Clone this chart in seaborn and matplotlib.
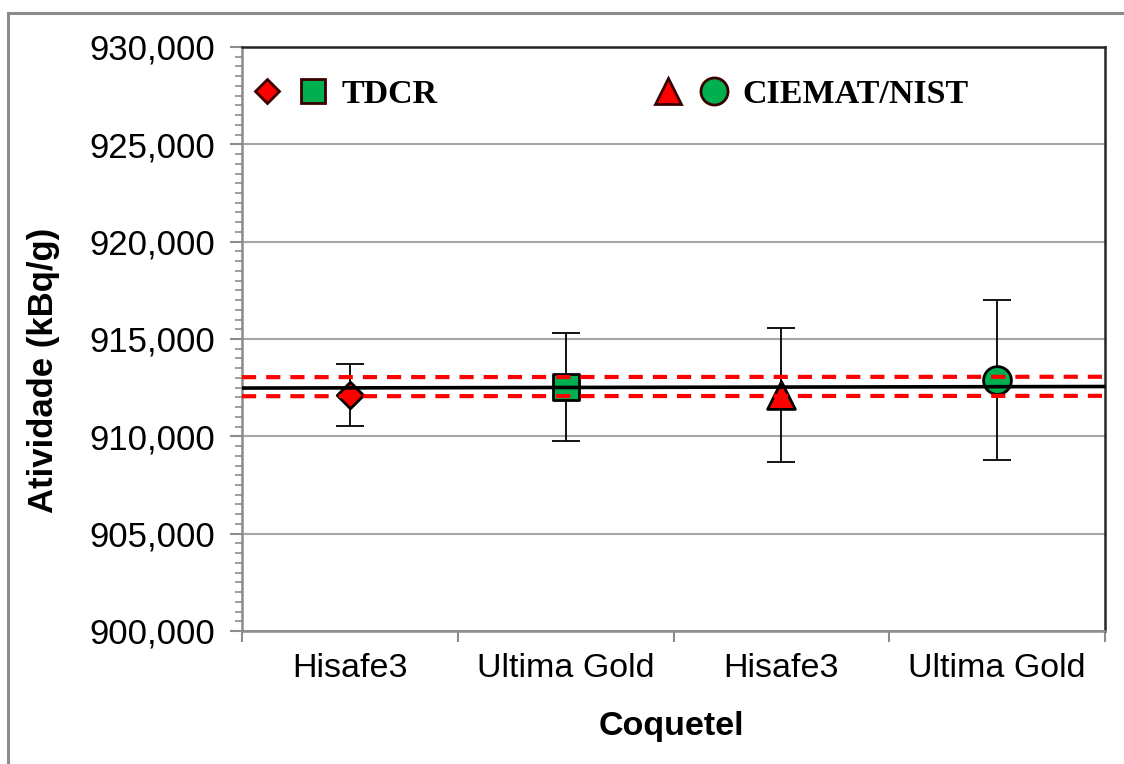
import matplotlib
matplotlib.use("Agg")
import matplotlib.pyplot as plt
import seaborn as sns
import numpy as np
from matplotlib.lines import Line2D
from matplotlib.legend_handler import HandlerTuple
from matplotlib.patches import Rectangle
from matplotlib.ticker import FuncFormatter, MultipleLocator, FixedLocator

# ---- data ----
categories = ["Hisafe3", "Ultima Gold", "Hisafe3", "Ultima Gold"]
methods = ["TDCR", "TDCR", "CIEMAT/NIST", "CIEMAT/NIST"]
activity = [912120, 912550, 912120, 912890]
uncertainty = [1600, 2770, 3420, 4120]
ref_x = [-0.5, 3.5]
ref_mean = [912480, 912560]
ref_upper = [913040, 913060]
ref_lower = [912060, 912080]
y_ticks = [900000, 905000, 910000, 915000, 920000, 925000, 930000]

# ---- style ----
sns.set_theme(style="white")
plt.rcParams["font.family"] = ["Liberation Sans", "DejaVu Sans"]
plt.rcParams["text.color"] = "black"
plt.rcParams["axes.labelcolor"] = "black"
plt.rcParams["xtick.labelcolor"] = "black"
plt.rcParams["ytick.labelcolor"] = "black"

marker_styles = ["D", "s", "^", "o"]
marker_colors = ["#ff0000", "#00b050", "#ff0000", "#00b050"]
marker_sizes = [13.5, 19, 20, 20]

fig = plt.figure(figsize=(11.24, 7.64), dpi=100)
ax = fig.add_axes([242 / 1124, 1 - 631 / 764, (1105 - 242) / 1124, (631 - 47) / 764])

xs = np.arange(len(categories))

# error bars
ax.errorbar(xs, activity, yerr=uncertainty, fmt="none", ecolor="black",
            elinewidth=1.3, capsize=10, capthick=1.3, zorder=3)

# points
for i in range(len(xs)):
    sns.scatterplot(x=[xs[i]], y=[activity[i]], marker=marker_styles[i],
                    color=marker_colors[i], s=marker_sizes[i] ** 2,
                    edgecolor="black", linewidth=2, ax=ax, zorder=4, legend=False)

# reference lines
sns.lineplot(x=ref_x, y=ref_mean, color="black", linewidth=2.6, ax=ax, zorder=5)
sns.lineplot(x=ref_x, y=ref_upper, color="#ff0000", linewidth=3, ax=ax, zorder=6,
             linestyle=(0, (3.4, 2.4)))
sns.lineplot(x=ref_x, y=ref_lower, color="#ff0000", linewidth=3, ax=ax, zorder=6,
             linestyle=(0, (3.4, 2.4)))

# axes limits & ticks
ax.set_xlim(-0.5, 3.5)
ax.set_ylim(900000, 930000)
ax.yaxis.set_major_locator(FixedLocator(y_ticks))
ax.yaxis.set_minor_locator(MultipleLocator(500))
ax.yaxis.set_major_formatter(FuncFormatter(lambda v, p: f"{int(v):,}"))
ax.set_xticks(xs)
ax.set_xticklabels(categories)
ax.xaxis.set_minor_locator(FixedLocator([-0.5, 0.5, 1.5, 2.5, 3.5]))

ax.tick_params(axis="y", which="major", length=9, width=1.5, color="#8c8c8c",
               labelsize=25, pad=10, left=True, direction="out")
ax.tick_params(axis="y", which="minor", length=5, width=1.2, color="#8c8c8c",
               left=True, direction="out")
ax.tick_params(axis="x", which="major", length=0, labelsize=24.5, pad=16)
ax.tick_params(axis="x", which="minor", length=8, width=1.5, color="#8c8c8c",
               bottom=True, direction="out")

ax.grid(axis="y", which="major", color="#a6a6a6", linewidth=1.5)
ax.set_axisbelow(True)

for side in ["left", "bottom"]:
    ax.spines[side].set_color("#8c8c8c")
    ax.spines[side].set_linewidth(1.8)
for side in ["top", "right"]:
    ax.spines[side].set_color("#262626")
    ax.spines[side].set_linewidth(1.8)

ax.set_ylabel("Atividade (kBq/g)", fontsize=25, fontweight="bold")
ax.set_xlabel("Coquetel", fontsize=24.5, fontweight="bold")
ax.yaxis.set_label_coords(-0.211, 0.447)
ax.xaxis.set_label_coords(0.497, -0.137)

# legend
ec = "#3a0000"
h_d = Line2D([], [], marker="D", color="none", markerfacecolor="#ff0000",
             markeredgecolor=ec, markersize=12.5, markeredgewidth=2)
h_s = Line2D([], [], marker="s", color="none", markerfacecolor="#00b050",
             markeredgecolor=ec, markersize=17.5, markeredgewidth=2)
h_t = Line2D([], [], marker="^", color="none", markerfacecolor="#ff0000",
             markeredgecolor=ec, markersize=19, markeredgewidth=2)
h_c = Line2D([], [], marker="o", color="none", markerfacecolor="#00b050",
             markeredgecolor=ec, markersize=19.5, markeredgewidth=2)
leg = ax.legend([(h_d, h_s), (h_t, h_c)], list(dict.fromkeys(methods)),
                handler_map={tuple: HandlerTuple(ndivide=None, pad=0.6)},
                loc="upper left", bbox_to_anchor=(-0.021, 0.998), ncol=2,
                frameon=False, handlelength=2.1, handletextpad=0.45,
                columnspacing=6.4,
                prop={"family": "Liberation Serif", "weight": "bold", "size": 24.5})

# outer chart border
fig.add_artist(Rectangle((8 / 1124, -0.2), 2.0, 1.2 - 13 / 764, transform=fig.transFigure,
                         fill=False, edgecolor="#8c8c8c", linewidth=2.2))

fig.savefig("out.png", dpi=100)
